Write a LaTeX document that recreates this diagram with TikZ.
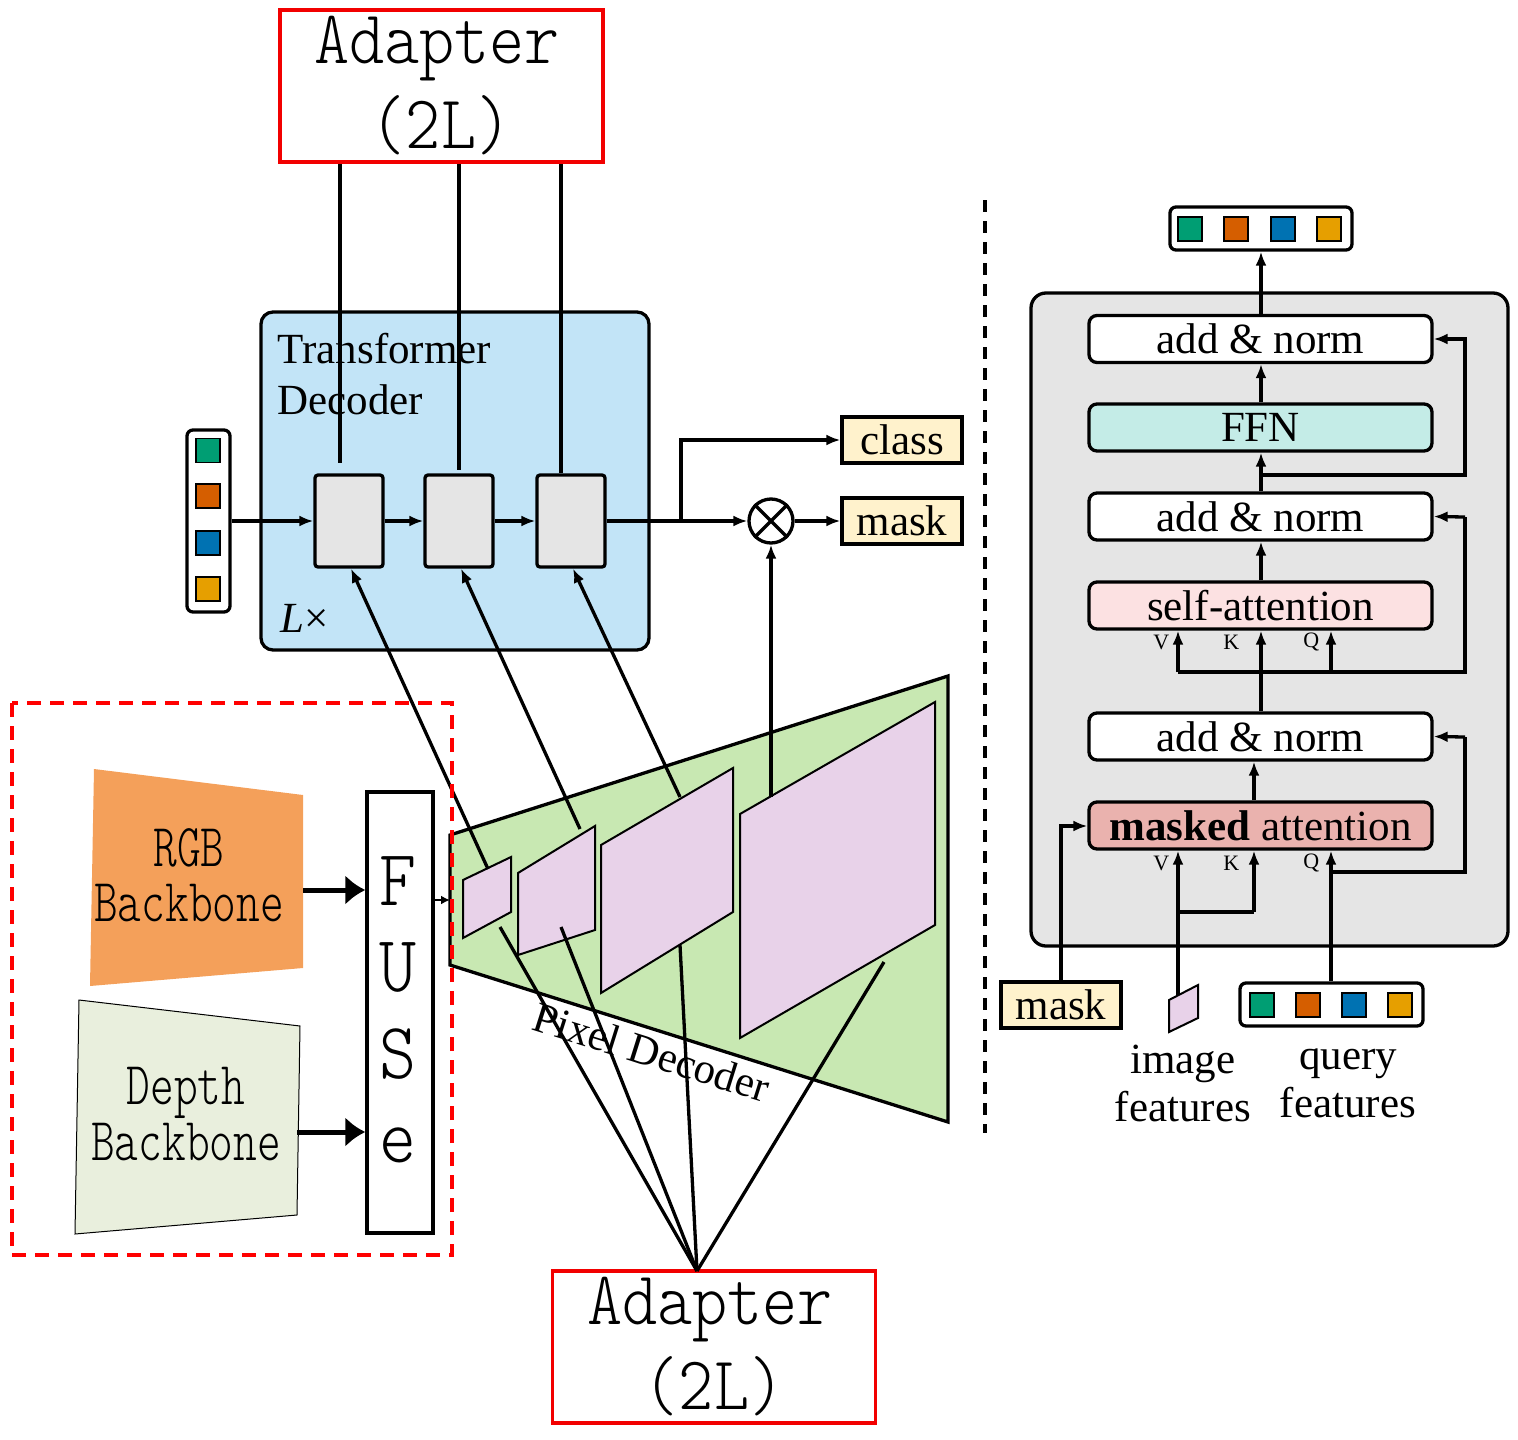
\documentclass[tikz,border=0pt]{standalone}
\usepackage{fontspec}
\setmainfont{Liberation Serif}
\newfontfamily\songA[FakeStretch=0.88]{Latin Modern Mono Light}
\newfontfamily\songB[FakeStretch=0.74]{Latin Modern Mono Light}
\usetikzlibrary{arrows.meta,calc}
\definecolor{qgreen}{HTML}{009E73}
\definecolor{qorange}{HTML}{D55E00}
\definecolor{qblue}{HTML}{0072B2}
\definecolor{qgold}{HTML}{E69F00}
\definecolor{tdblue}{HTML}{C2E4F7}
\definecolor{lgray}{HTML}{E5E5E5}
\definecolor{cream}{HTML}{FFF2CC}
\definecolor{rgbor}{HTML}{F4A05A}
\definecolor{depthg}{HTML}{E9EFDD}
\definecolor{pdgreen}{HTML}{C8E8B2}
\definecolor{pinkf}{HTML}{E8D2E9}
\definecolor{ffnc}{HTML}{C4ECE7}
\definecolor{sac}{HTML}{FCE1E2}
\definecolor{mac}{HTML}{EAB2AE}
\definecolor{adred}{HTML}{F20000}
\begin{document}
\begin{tikzpicture}[x=1pt,y=-1pt,line width=3.3pt,
  >={Latex[length=14pt,width=11pt]},
  txt/.style={font=\fontsize{43}{48}\selectfont},
  adbox/.style={draw=adred,line width=3.5pt,minimum width=323pt,minimum height=152pt,inner sep=0pt},
  adtxt/.style={font=\songA\fontsize{76}{76}\selectfont,inner sep=0pt,anchor=base},
  tok/.style={draw=black,line width=1.5pt,minimum size=24pt,inner sep=0pt},
  bar/.style={draw,rounded corners=6pt,fill=white,inner sep=0pt},
  tdstep/.style={draw,fill=lgray,rounded corners=3pt,minimum width=68pt,minimum height=92pt,inner sep=0pt},
  outbox/.style={draw,fill=cream,minimum width=120pt,minimum height=46pt,inner sep=0pt,txt},
  layer/.style={draw,rounded corners=8pt,minimum width=343pt,minimum height=47pt,inner sep=0pt,txt},
  small/.style={font=\fontsize{22}{24}\selectfont,inner sep=0pt},
  pink/.style={draw,fill=pinkf,line width=2pt},
  bigarrow/.style={line width=5pt,-{Latex[length=20pt,width=30pt]}},
  bbtxt/.style={font=\songB\fontsize{61}{61}\selectfont,inner sep=0pt,anchor=base},
  fusetxt/.style={font=\songA\fontsize{80}{80}\selectfont,inner sep=0pt,anchor=base},
]
\useasboundingbox (0,0) rectangle (1518,1440);

% ---------------- left part ----------------
% Transformer decoder
\node[draw,fill=tdblue,rounded corners=12pt,minimum width=388pt,minimum height=338pt,inner sep=0pt] (td) at (455,481) {};
\node[txt,anchor=base west,inner sep=0pt] (tdt1) at (276,363) {Transformer};
\node[txt,anchor=base west,inner sep=0pt] (tdt2) at (276,414) {Decoder};
\node[txt,anchor=base west,inner sep=0pt] (lx) at (279,632) {\textit{L}×};

% query tokens (left)
\node[bar,minimum width=43pt,minimum height=182pt] (qbar) at (208.5,521) {};
\node[tok,fill=qgreen] (q1) at (208,450.5) {};
\node[tok,fill=qorange] (q2) at (208,496) {};
\node[tok,fill=qblue] (q3) at (208,543) {};
\node[tok,fill=qgold] (q4) at (208,589) {};

% decoder steps
\node[tdstep] (b1) at (349,521) {};
\node[tdstep] (b2) at (459,521) {};
\node[tdstep] (b3) at (571,521) {};
\draw[->] (qbar.east) -- (b1.west);
\draw[->] (b1.east) -- (b2.west);
\draw[->] (b2.east) -- (b3.west);

% outputs
\node[outbox] (cls) at (902,440) {class};
\node[outbox] (msk) at (902,521) {mask};
\node[draw,circle,minimum size=44pt,inner sep=0pt,fill=white] (ot) at (771,521) {};
\draw (ot.north west) -- (ot.south east);
\draw (ot.north east) -- (ot.south west);
\coordinate (br) at (681,521);
\draw[->] (b3.east) -- (ot.west);
\draw[->] (br) |- (cls.west);
\draw[->] (ot.east) -- (msk.west);

% top adapter
\node[adbox] (adT) at (441.5,86) {};
\node[adtxt] (adT1) at (437,63) {Adapter};
\node[adtxt] (adT2) at (441,148) {(2L)};
\draw (adT.south -| 340,0) -- (340,463);
\draw (adT.south -| 459,0) -- (459,470);
\draw (adT.south -| 561,0) -- (b3.north -| 561,0);

% pixel decoder
\draw[fill=pdgreen] (450,835) -- (948,676) -- (948,1122) -- (450,965) -- cycle;
\draw[pink] (463,880) -- (511,857) -- (511,912) -- (463,938) -- cycle;
\draw[pink] (518,873) -- (595,826) -- (595,930) -- (518,955) -- cycle;
\draw[pink] (601,845) -- (733,768) -- (733,912) -- (601,993) -- cycle;
\draw[pink] (740,814) -- (935,702) -- (935,925) -- (740,1038) -- cycle;
\node[txt,rotate=-17.5,inner sep=0pt] (pdl) at (652,1052) {Pixel Decoder};

% pixel decoder -> transformer decoder
\coordinate (p1t) at (488,869);
\coordinate (p2t) at (580,829);
\coordinate (p3t) at (680,797);
\coordinate (p4t) at (771,797);
\draw[->] (p1t) -- ($(b1.south)+(2,0)$);
\draw[->] (p2t) -- ($(b2.south)+(2,0)$);
\draw[->] (p3t) -- ($(b3.south)+(2,0)$);
\draw[->] (p4t) -- (ot.south);

% bottom adapter
\node[adbox] (adB) at (714,1347) {};
\node[adtxt] (adB1) at (710,1324) {Adapter};
\node[adtxt] (adB2) at (714,1409) {(2L)};
\coordinate (apex) at (697,1271);
\draw (apex) -- (500,927);
\draw (apex) -- (561,927);
\draw (apex) -- (680,945);
\draw (apex) -- (884,962);

% backbones + fuse
\draw[red,line width=3.5pt,dash pattern=on 14pt off 9pt] (12,703) rectangle (452,1255);
\draw[draw=none,fill=rgbor] (94,769) -- (303,795) -- (303,968) -- (90,986) -- cycle;
\node[bbtxt] (rgb1) at (189,866) {RGB};
\node[bbtxt] (rgb2) at (189,921) {Backbone};
\draw[fill=depthg,line width=1pt] (79,1000) -- (300,1026) -- (297,1215) -- (75,1234) -- cycle;
\node[bbtxt] (dep1) at (186,1104) {Depth};
\node[bbtxt] (dep2) at (186,1160) {Backbone};
\node[draw,fill=white,minimum width=66pt,minimum height=441pt,inner sep=0pt] (fuse) at (400,1012.5) {};
\node[fusetxt] (fF) at (398,905) {F};
\node[fusetxt] (fU) at (398,991) {U};
\node[fusetxt] (fS) at (398,1078) {S};
\node[fusetxt] (fe) at (398,1162) {e};
\draw[bigarrow] (303,890) -- (fuse.west |- 0,890);
\draw[bigarrow] (297,1132) -- (fuse.west |- 0,1132);
\draw[line width=2pt,-{Latex[length=9pt,width=9pt]}] (fuse.east |- 0,900) -- (450,900);

% ---------------- right part ----------------
\draw[dash pattern=on 12pt off 9pt] (985,200) -- (985,1133);
\node[draw,fill=lgray,rounded corners=15pt,minimum width=477pt,minimum height=653pt,inner sep=0pt] (panel) at (1269.5,619.5) {};

\node[bar,minimum width=182pt,minimum height=43pt] (obar) at (1261,228.5) {};
\node[tok,fill=qgreen] (o1) at (1190,229) {};
\node[tok,fill=qorange] (o2) at (1236,229) {};
\node[tok,fill=qblue] (o3) at (1283,229) {};
\node[tok,fill=qgold] (o4) at (1329,229) {};

\node[layer,fill=white] (an1) at (1260.5,339) {add \& norm};
\node[layer,fill=ffnc] (ffn) at (1260.5,427.5) {FFN};
\node[layer,fill=white] (an2) at (1260.5,516.5) {add \& norm};
\node[layer,fill=sac] (sa) at (1260.5,605.5) {self-attention};
\node[layer,fill=white] (an3) at (1260.5,736.5) {add \& norm};
\node[layer,fill=mac] (ma) at (1260.5,825.5) {\textbf{masked} attention};

\draw[->] (an1.north -| 1261,0) -- (obar.south -| 1261,0);
\draw[->] (ffn.north -| 1261,0) -- (an1.south -| 1261,0);
\draw[->] (an2.north -| 1261,0) -- (ffn.south -| 1261,0);
\draw[->] (1261,475) -| (1465,339) -- (an1.east);
\draw[->] (sa.north -| 1261,0) -- (an2.south -| 1261,0);
% self-attention inputs
\draw (an3.north -| 1261,0) -- (1261,672);
\draw[->] (1178,672) -- (sa.south -| 1178,0);
\draw[->] (1261,672) -- (sa.south -| 1261,0);
\draw[->] (1331,672) -- (sa.south -| 1331,0);
\draw (1178,672) -- (1465,672) -- (1465,517) coordinate (r2);
\draw[->] (r2) -- (an2.east);
\node[small,anchor=east] (sv) at (1171,642) {V};
\node[small,anchor=east] (sk) at (1241,642) {K};
\node[small,anchor=east] (sq) at (1321,642) {Q};
% masked attention
\draw[->] (ma.north -| 1254,0) -- (an3.south -| 1254,0);
\node[small,anchor=east] (mv) at (1171,863) {V};
\node[small,anchor=east] (mk) at (1241,863) {K};
\node[small,anchor=east] (mq) at (1321,863) {Q};

% bottom inputs
\node[outbox] (mask2) at (1061,1005) {mask};
\draw[->] (mask2.north) |- (ma.west |- 0,826);
\draw[pink] (1169,1000) -- (1198,985) -- (1198,1018) -- (1169,1032) -- cycle;
\coordinate (imf) at (1178,995);
\node[txt,align=center,inner sep=0pt] (imlab) at (1183,1083) {image\\features};
\draw (imf) -- (1178,912) -- (1254,912);
\draw[->] (1178,912) -- (ma.south -| 1178,0);
\draw[->] (1254,912) -- (ma.south -| 1254,0);

\node[bar,minimum width=183pt,minimum height=43pt] (qfbar) at (1331.5,1004.5) {};
\node[tok,fill=qgreen] (f1) at (1262,1005) {};
\node[tok,fill=qorange] (f2) at (1308,1005) {};
\node[tok,fill=qblue] (f3) at (1354,1005) {};
\node[tok,fill=qgold] (f4) at (1400,1005) {};
\node[txt,align=center,inner sep=0pt] (qlab) at (1348,1083) {query\\features};
\draw[->] (qfbar.north -| 1331,0) -- (ma.south -| 1331,0);
\draw (1331,872) -| (1465,737) coordinate (r3);
\draw[->] (r3) -- (an3.east);
\end{tikzpicture}
\end{document}
